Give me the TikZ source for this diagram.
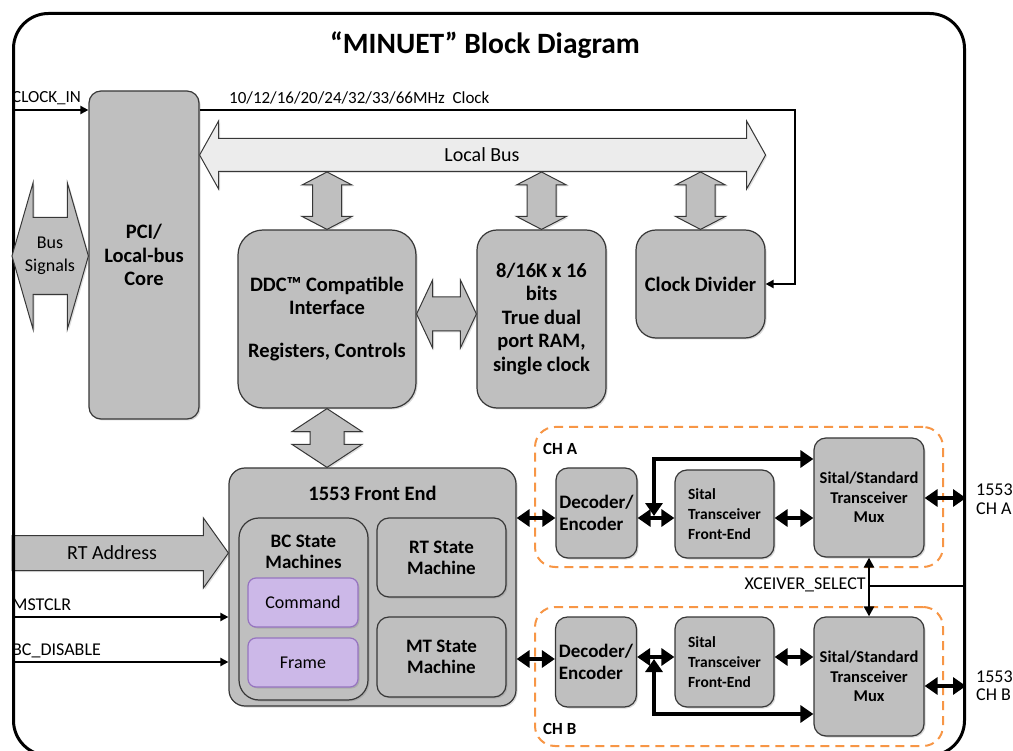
\documentclass[tikz,border=0pt]{standalone}
\usepackage{fontspec}
\setmainfont{Carlito}
\usetikzlibrary{
arrows.meta,
calc,
positioning,
shadows,
backgrounds
}
\definecolor{boxgray}{RGB}{191,191,191}
\definecolor{boxline}{RGB}{55,55,55}
\definecolor{busgray}{RGB}{236,236,236}
\definecolor{lilac}{RGB}{204,184,232}
\definecolor{lilacline}{RGB}{150,116,192}
\definecolor{dashorange}{RGB}{247,150,70}

% fat double arrows: [style]{left/top tip}{right/bottom tip}{shaft half}{head half}{head length}
\newcommand{\harrow}[6][]{%
  \draw[#1] (#2) -- ($(#2)+(#6,-#5)$) -- ($(#2)+(#6,-#4)$) -- ($(#3)+(-#6,-#4)$)
    -- ($(#3)+(-#6,-#5)$) -- (#3) -- ($(#3)+(-#6,#5)$) -- ($(#3)+(-#6,#4)$)
    -- ($(#2)+(#6,#4)$) -- ($(#2)+(#6,#5)$) -- cycle;}
\newcommand{\varrow}[6][]{%
  \draw[#1] (#2) -- ($(#2)+(#5,#6)$) -- ($(#2)+(#4,#6)$) -- ($(#3)+(#4,-#6)$)
    -- ($(#3)+(#5,-#6)$) -- (#3) -- ($(#3)+(-#5,-#6)$) -- ($(#3)+(-#4,-#6)$)
    -- ($(#2)+(-#4,#6)$) -- ($(#2)+(-#5,#6)$) -- cycle;}

\begin{document}
\begin{tikzpicture}[
    x=1pt, y=-1pt,
    >={Triangle[length=8pt,width=8pt]},
    frame/.style={draw, line width=3pt, rounded corners=35pt},
    block/.style={draw=boxline, fill=boxgray, line width=1.2pt, rounded corners=12pt,
      drop shadow={shadow xshift=1.5pt, shadow yshift=-1.5pt, opacity=.3},
      align=center, inner sep=0pt},
    big/.style={block, font=\fontsize{20.5}{23.5}\selectfont\bfseries},
    sm/.style={block, minimum width=129pt, font=\fontsize{19}{21}\selectfont\bfseries},
    dec/.style={block, minimum width=81pt, minimum height=90pt, align=left,
      font=\fontsize{19}{22}\selectfont\bfseries},
    sfe/.style={block, minimum width=99pt, align=left,
      font=\fontsize{15.5}{20}\selectfont\bfseries},
    mux/.style={block, minimum width=110pt, minimum height=119pt,
      font=\fontsize{16.5}{19.5}\selectfont\bfseries},
    lilacbox/.style={block, draw=lilacline, fill=lilac, rounded corners=8pt,
      minimum width=110pt, minimum height=49pt, font=\fontsize{18}{20}\selectfont},
    chan/.style={draw=dashorange, line width=2pt, dash pattern=on 9pt off 6pt,
      rounded corners=20pt, minimum width=408pt},
    chlabel/.style={inner sep=0pt, anchor=west, font=\fontsize{17}{20}\selectfont\bfseries},
    txt/.style={inner sep=0pt, align=center, font=\fontsize{20}{23}\selectfont},
    lbl/.style={inner sep=0pt, align=left, font=\fontsize{18}{18.5}\selectfont},
    small/.style={inner sep=0pt, anchor=west, font=\fontsize{17}{20}\selectfont},
    fatbus/.style={draw=boxline, fill=boxgray, line width=1pt,
      drop shadow={shadow xshift=1.5pt, shadow yshift=-1.5pt, opacity=.25}},
    lightbus/.style={fatbus, fill=busgray},
    sig/.style={->, line width=2pt},
    bus/.style={>={Triangle[length=13pt,width=17pt]}, <->, line width=3.5pt},
    xsel/.style={>={Triangle[length=10pt,width=10pt]}, <->, line width=2.5pt}]
  \useasboundingbox (0,0) rectangle (1013,751);
  \clip (0,0) rectangle (1013,751);
  \node[frame, minimum width=951pt, minimum height=742pt, anchor=north west] (F) at (12,12) {};
  \node[font=\fontsize{29.5}{34}\selectfont\bfseries] (T) at (485,45) {“MINUET” Block Diagram};

  % upper blocks
  \node[big, minimum width=110pt, minimum height=328pt] (PCI) at (144,255) {PCI/\\Local-bus\\Core};
  \node[big, minimum width=178pt, minimum height=178pt, rounded corners=25pt] (DDC) at (327,319)
    {DDC™ Compatible\\Interface\\[19pt]Registers, Controls};
  \node[big, minimum width=129pt, minimum height=178pt, rounded corners=20pt] (RAM) at (541.5,319)
    {8/16K x 16\\bits\\True dual\\port RAM,\\single clock};
  \node[big, minimum width=129pt, minimum height=108pt, rounded corners=20pt] (CLK) at (700.5,284) {Clock Divider};

  % 1553 front end
  \node[block, minimum width=287pt, minimum height=238pt, rounded corners=16pt] (FE) at (372.5,587) {};
  \node[font=\fontsize{20.5}{23.5}\selectfont\bfseries] (FEt) at (372.5,493) {1553 Front End};
  \node[block, minimum width=129pt, minimum height=182pt, rounded corners=20pt] (BC) at (303.5,609) {};
  \node[align=center, inner sep=0pt, font=\fontsize{19}{21}\selectfont\bfseries] (BCt) at (303.5,552) {BC State\\Machines};
  \node[lilacbox] (CMD) at (303,602.5) {Command};
  \node[lilacbox] (FRM) at (303,662.5) {Frame};
  \node[sm, minimum height=79pt] (RT) at (441.5,557.5) {RT State\\Machine};
  \node[sm, minimum height=80pt] (MT) at (441.5,657) {MT State\\Machine};

  % channels
  \node[chan, minimum height=140pt] (CHA) at (739,497) {};
  \node[chlabel] (CHAl) at (543,449) {CH A};
  \node[dec] (DECA) at (596.5,513) {Decoder/\\Encoder};
  \node[sfe, minimum height=88pt] (SFEA) at (724.5,514) {Sital\\Transceiver\\Front-End};
  \node[mux] (MUXA) at (869,497.5) {Sital/Standard\\Transceiver\\Mux};
  \node[chan, minimum height=139pt] (CHB) at (739,676.5) {};
  \node[chlabel] (CHBl) at (543,729) {CH B};
  \node[dec] (DECB) at (596,662) {Decoder/\\Encoder};
  \node[sfe, minimum height=90pt] (SFEB) at (724.5,662) {Sital\\Transceiver\\Front-End};
  \node[mux] (MUXB) at (869,676.5) {Sital/Standard\\Transceiver\\Mux};

  % labels
  \node[small] (CKI) at (12,98) {CLOCK\_IN};
  \node[small] (CKL) at (229,98) {10/12/16/20/24/32/33/66MHz\ \ Clock};
  \node[lbl, anchor=west] (MCL) at (12,605) {MSTCLR};
  \node[lbl, anchor=west] (BCD) at (12,651) {BC\_DISABLE};
  \node[lbl, anchor=west] (OA) at (976,499) {1553\\CH A};
  \node[lbl, anchor=west] (OB) at (976,685.5) {1553\\CH B};
  \node[lbl, anchor=east] (XS) at (866,585) {XCEIVER\_SELECT};

  % local bus and fat arrows
  \coordinate (lbL) at (PCI.east |- 0,155);
  \coordinate (lbR) at (CLK.east |- 0,155);
  \coordinate (lbB) at (0,172);
  \harrow[lightbus]{lbL}{lbR}{16.5}{34}{19}
  \node[txt] (LB) at (482,155) {Local Bus};
  \foreach \n in {DDC,RAM,CLK}{
    \coordinate (\n top) at (\n.north |- lbB);
    \varrow[fatbus]{\n top}{\n.north}{14.5}{25}{13}
  }
  \coordinate (fetop) at (DDC.south |- FE.north);
  \varrow[fatbus]{DDC.south}{fetop}{17}{35}{23}
  \coordinate (dr1) at (DDC.east |- 0,314);
  \coordinate (dr2) at (RAM.west |- 0,314);
  \harrow[fatbus]{dr1}{dr2}{17}{34}{16}
  \coordinate (bs1) at (F.west |- 0,256);
  \coordinate (bs2) at (PCI.west |- 0,256);
  \harrow[fatbus]{bs1}{bs2}{38.5}{73}{21}
  \node[txt, font=\fontsize{18}{23}\selectfont] (BS) at (50,256) {Bus\\Signals};
  \coordinate (rt1) at (F.west |- 0,553);
  \coordinate (rt2) at (FE.west |- 0,553);
  \begin{scope}[on background layer]
    \draw[fatbus] ($(rt1)+(0,-17.5)$) -- ($(rt2)+(-25,-17.5)$) -- ($(rt2)+(-25,-35)$) -- (rt2)
      -- ($(rt2)+(-25,35)$) -- ($(rt2)+(-25,17.5)$) -- ($(rt1)+(0,17.5)$) -- cycle;
  \end{scope}
  \node[txt] (RTA) at (112,553) {RT Address};

  % signals
  \draw[sig] (F.west |- 0,110) -- (PCI.west |- 0,110);
  \draw[sig] (PCI.east |- 0,110) -- (795,110) |- (CLK.east);
  \draw[sig] (F.west |- 0,617) -- (FE.west |- 0,617);
  \draw[sig] (F.west |- 0,662) -- (FE.west |- 0,662);

  % channel A
  \draw[bus] (FE.east |- 0,518) -- (DECA.west |- 0,518);
  \draw[bus] (DECA.east |- 0,518) -- (SFEA.west |- 0,518);
  \draw[bus] (SFEA.east |- 0,518) -- (MUXA.west |- 0,518);
  \draw[bus] (MUXA.east |- 0,498) -- (F.east |- 0,498);
  \draw[bus] (654,516) |- (MUXA.west |- 0,459);
  % channel B
  \draw[bus] (FE.east |- 0,659) -- (DECB.west |- 0,659);
  \draw[bus] (DECB.east |- 0,657) -- (SFEB.west |- 0,657);
  \draw[bus] (SFEB.east |- 0,657) -- (MUXB.west |- 0,657);
  \draw[bus] (MUXB.east |- 0,686) -- (F.east |- 0,686);
  \draw[bus] (654,659) |- (MUXB.west |- 0,714);
  % transceiver select
  \draw[xsel] (MUXA.south) -- (MUXB.north);
  \draw[line width=2pt] (MUXA.south |- 0,586) -- (F.east |- 0,586);
\end{tikzpicture}
\end{document}
